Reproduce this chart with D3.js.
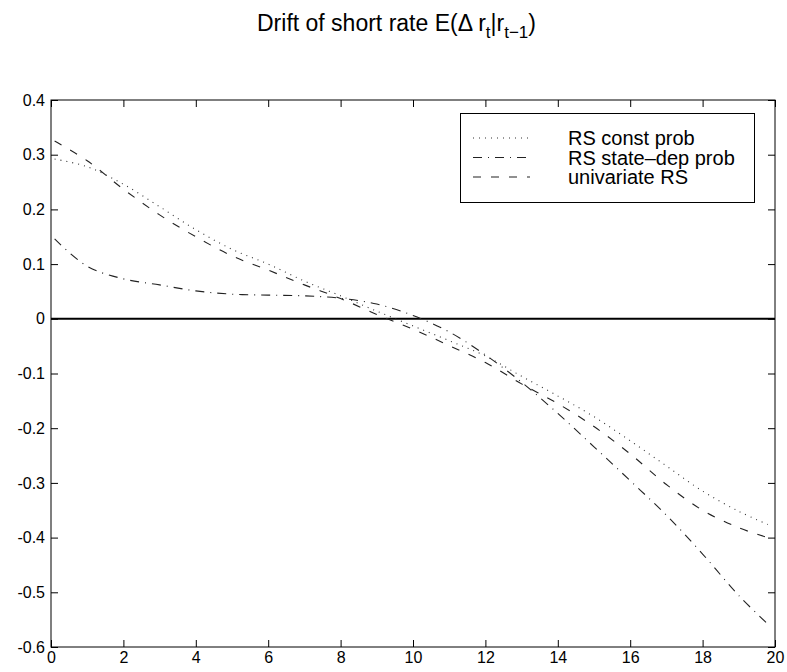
<!DOCTYPE html>
<html>
<head>
<meta charset="utf-8">
<script src="https://cdn.jsdelivr.net/npm/d3@7"></script>
<style>
  body { margin: 0; background: #fff; }
  text { font-family: "Liberation Sans", Arial, Helvetica, sans-serif; fill: #000; }
</style>
</head>
<body>
<script>

// Data

var xs = [0.1, 1, 2, 3, 4, 5, 6, 7, 8, 9, 10, 11, 12, 13, 14, 15, 16, 17, 18, 19, 19.8];

var constProb = [0.292, 0.278, 0.246, 0.205, 0.163, 0.127, 0.100, 0.069, 0.042, 0.014, -0.013,
	-0.040, -0.068, -0.105, -0.141, -0.179, -0.223, -0.269, -0.315, -0.352, -0.376];

var stateDepProb = [0.146, 0.096, 0.073, 0.062, 0.051, 0.045, 0.0433, 0.042, 0.0375, 0.027, 0.006,
	-0.024, -0.066, -0.116, -0.173, -0.234, -0.296, -0.359, -0.430, -0.506, -0.558];

var univariate = [0.325, 0.289, 0.237, 0.190, 0.150, 0.115, 0.089, 0.062, 0.037, 0.008, -0.019,
	-0.049, -0.080, -0.119, -0.155, -0.197, -0.247, -0.303, -0.350, -0.382, -0.400];

var seriesNames = ['RS const prob', 'RS state\u2013dep prob', 'univariate RS'];

var xTicks = [0, 2, 4, 6, 8, 10, 12, 14, 16, 18, 20];
var xTickLabels = ['0', '2', '4', '6', '8', '10', '12', '14', '16', '18', '20'];
var yTicks = [-0.6, -0.5, -0.4, -0.3, -0.2, -0.1, 0, 0.1, 0.2, 0.3, 0.4];
var yTickLabels = ['-0.6', '-0.5', '-0.4', '-0.3', '-0.2', '-0.1', '0', '0.1', '0.2', '0.3', '0.4'];

// Layout (plot box edges in pixels)

var W = 787, H = 672,
	boxL = 51, boxR = 775, boxT = 100, boxB = 647;

var svg = d3.select('body').append('svg')
	.attr('width', W)
	.attr('height', H);

var x = d3.scaleLinear().domain([0, 20]).range([boxL, boxR]),
	y = d3.scaleLinear().domain([-0.6, 0.4]).range([boxB, boxT]);

var styles = [
	{dash: '1,5', width: 1.1, color: '#333'},
	{dash: '9,6,1,6', width: 1.1, color: '#222'},
	{dash: '8,10', width: 1.1, color: '#222'}
];

var allSeries = [constProb, stateDepProb, univariate];

// Zero line

svg.append('line')
	.attr('x1', x(0)).attr('x2', x(20))
	.attr('y1', y(0)).attr('y2', y(0))
	.style('stroke', '#000')
	.style('stroke-width', 2);

// Curves

var line = d3.line()
	.x(function(d) {return x(d[0]);})
	.y(function(d) {return y(d[1]);})
	.curve(d3.curveCatmullRom);

svg.selectAll('path.series')
	.data(allSeries)
	.enter()
	.append('path')
	.attr('class', 'series')
	.attr('d', function(s) {
		return line(xs.map(function(v, i) {return [v, s[i]];}));
	})
	.style('fill', 'none')
	.style('stroke', function(d, i) {return styles[i].color;})
	.style('stroke-width', function(d, i) {return styles[i].width;})
	.style('stroke-dasharray', function(d, i) {return styles[i].dash;});

// Axes with inward ticks on all four sides

function styleAxis(g) {
	g.select('.domain').remove();
	g.selectAll('.tick line').style('stroke', '#000');
	g.selectAll('.tick text')
		.style('font-family', '"Liberation Sans", Arial, Helvetica, sans-serif')
		.style('font-size', '16px')
		.style('fill', '#000');
}

svg.append('g')
	.attr('transform', 'translate(0,' + boxB + ')')
	.call(d3.axisBottom(x).tickValues(xTicks)
		.tickFormat(function(d, i) {return xTickLabels[i];})
		.tickSizeInner(-7).tickSizeOuter(0).tickPadding(5))
	.call(styleAxis);

svg.append('g')
	.attr('transform', 'translate(0,' + boxT + ')')
	.call(d3.axisTop(x).tickValues(xTicks).tickFormat('')
		.tickSizeInner(-7).tickSizeOuter(0))
	.call(styleAxis);

svg.append('g')
	.attr('transform', 'translate(' + boxL + ',0)')
	.call(d3.axisLeft(y).tickValues(yTicks)
		.tickFormat(function(d, i) {return yTickLabels[i];})
		.tickSizeInner(-7).tickSizeOuter(0).tickPadding(6))
	.call(styleAxis);

svg.append('g')
	.attr('transform', 'translate(' + boxR + ',0)')
	.call(d3.axisRight(y).tickValues(yTicks).tickFormat('')
		.tickSizeInner(-7).tickSizeOuter(0))
	.call(styleAxis);

svg.append('rect')
	.attr('x', boxL).attr('y', boxT)
	.attr('width', boxR - boxL).attr('height', boxB - boxT)
	.style('fill', 'none')
	.style('stroke', '#000')
	.style('stroke-width', 1);

// Title with subscripts

var title = svg.append('text')
	.attr('x', 257)
	.attr('y', 31)
	.style('font-size', '23px');

title.append('tspan').text('Drift of short rate E(\u0394 r');
title.append('tspan').attr('dy', 7).style('font-size', '17px').text('t');
title.append('tspan').attr('dy', -7).text('|r');
title.append('tspan').attr('dy', 7).style('font-size', '17px').text('t\u22121');
title.append('tspan').attr('dy', -7).text(')');

// Legend

var legend = svg.append('g');

legend.append('rect')
	.attr('x', 460.5).attr('y', 113.5)
	.attr('width', 294).attr('height', 89)
	.style('fill', '#fff')
	.style('stroke', '#000')
	.style('stroke-width', 1);

var rows = legend.selectAll('g.row')
	.data(seriesNames)
	.enter()
	.append('g')
	.attr('class', 'row')
	.attr('transform', function(d, i) {return 'translate(0,' + (138 + i * 19.5) + ')';});

rows.append('line')
	.attr('x1', 473).attr('x2', 530)
	.attr('y1', 0).attr('y2', 0)
	.style('stroke', function(d, i) {return styles[i].color;})
	.style('stroke-width', function(d, i) {return styles[i].width;})
	.style('stroke-dasharray', function(d, i) {return styles[i].dash;});

rows.append('text')
	.attr('x', 568)
	.attr('y', 7)
	.style('font-size', '20px')
	.text(function(d) {return d;});

</script>
</body>
</html>
